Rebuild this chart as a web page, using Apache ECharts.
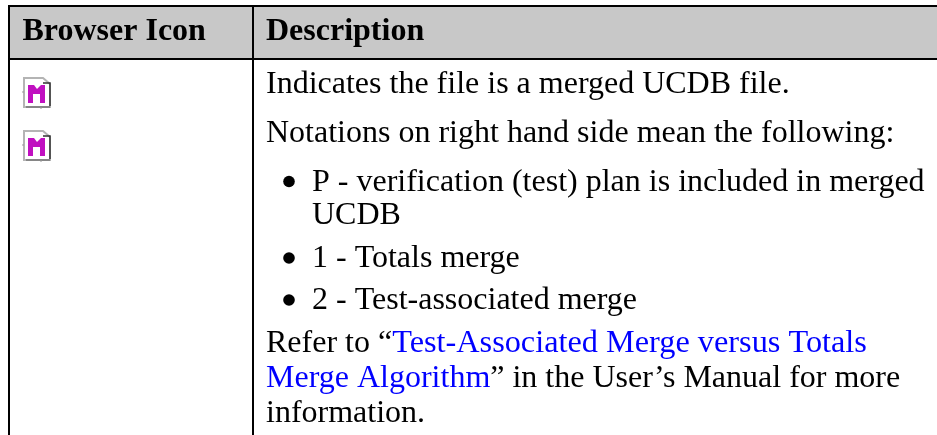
<!DOCTYPE html>
<html>
<head>
<meta charset="utf-8">
<style>html,body{margin:0;padding:0;background:#fff;overflow:hidden}#main{width:937px;height:435px}</style>
<script src="https://cdn.jsdelivr.net/npm/echarts@6/dist/echarts.min.js"></script>
</head>
<body>
<div id="main"></div>
<script>
const headers = ['Browser Icon', 'Description'];
const bodyLines = [
	'Indicates the file is a merged UCDB file.',
	'Notations on right hand side mean the following:',
	'P - verification (test) plan is included in merged',
	'UCDB',
	'1 - Totals merge',
	'2 - Test-associated merge',
	'Refer to \u201c{wide|Test-Associated Merge versus Totals}',
	'{link|Merge Algorithm}\u201d in the User\u2019s Manual for more',
	'information.'
];
const lineY = [85, 134, 183, 216, 259, 301, 344, 379, 414];
const lineX = [266, 266, 312, 312, 312, 312, 266, 266, 266];
const bulletY = [181.5, 258, 300];
const iconY = [78, 131];

const serif = '"Liberation Serif", serif';
const bodyFont = '32px ' + serif;
let chart = echarts.init(document.getElementById('main'), null, {renderer: 'canvas'});
let els = [];

// header background and grid lines
els.push({type: 'rect', shape: {x: 8, y: 5, width: 929, height: 54}, style: {fill: '#c8c8c8'}});
const line = (x1, y1, x2, y2) => ({type: 'line', shape: {x1, y1, x2, y2}, style: {stroke: '#000', lineWidth: 2}});
els.push(line(8, 6, 937, 6), line(8, 59, 937, 59), line(9, 5, 9, 435), line(253, 5, 253, 435));

headers.forEach((h, i) => {
	els.push({type: 'text', style: {x: i ? 266 : 22.5, y: 32, text: h, fill: '#000',
		font: 'bold 32px ' + serif, verticalAlign: 'middle'}});
});

bodyLines.forEach((t, i) => {
	els.push({type: 'text', style: {x: lineX[i], y: lineY[i], text: t, fill: '#000',
		font: bodyFont, verticalAlign: 'middle',
		rich: {link: {fill: '#0000ff', font: bodyFont}, wide: {fill: '#0000ff', font: '32.3px ' + serif}}}});
});

bulletY.forEach(y => {
	els.push({type: 'circle', shape: {cx: 289, cy: y, r: 5.8}, style: {fill: '#000'}});
});

// browser icon, page with magenta M
iconY.forEach(y => {
	els.push({type: 'group', x: 24, y: y, children: [
		{type: 'polygon', shape: {points: [[0, 0], [19, 0], [26, 6], [26, 29], [0, 29]]}, style: {fill: '#fff', stroke: '#b4b4b4', lineWidth: 2}},
		{type: 'polyline', shape: {points: [[19, 5], [26, 5], [26, 28]]}, style: {fill: 'none', stroke: '#333', lineWidth: 1.5}},
		{type: 'line', shape: {x1: 2, y1: 29, x2: 26, y2: 29}, style: {stroke: '#777', lineWidth: 1.5}},
		{type: 'polygon', shape: {points: [[4, 7], [10, 7], [13, 11], [17, 7], [21, 7], [21, 25], [16, 25], [16, 16], [9, 16], [9, 25], [4, 25]]}, style: {fill: '#c010c0'}},
		{type: 'line', shape: {x1: -2, y1: 14, x2: 0, y2: 14}, style: {stroke: '#999', lineWidth: 1}},
		{type: 'line', shape: {x1: 17, y1: 29, x2: 17, y2: 31}, style: {stroke: '#999', lineWidth: 1}}
	]});
});

chart.setOption({animation: false, graphic: {elements: els}});
</script>
</body>
</html>
